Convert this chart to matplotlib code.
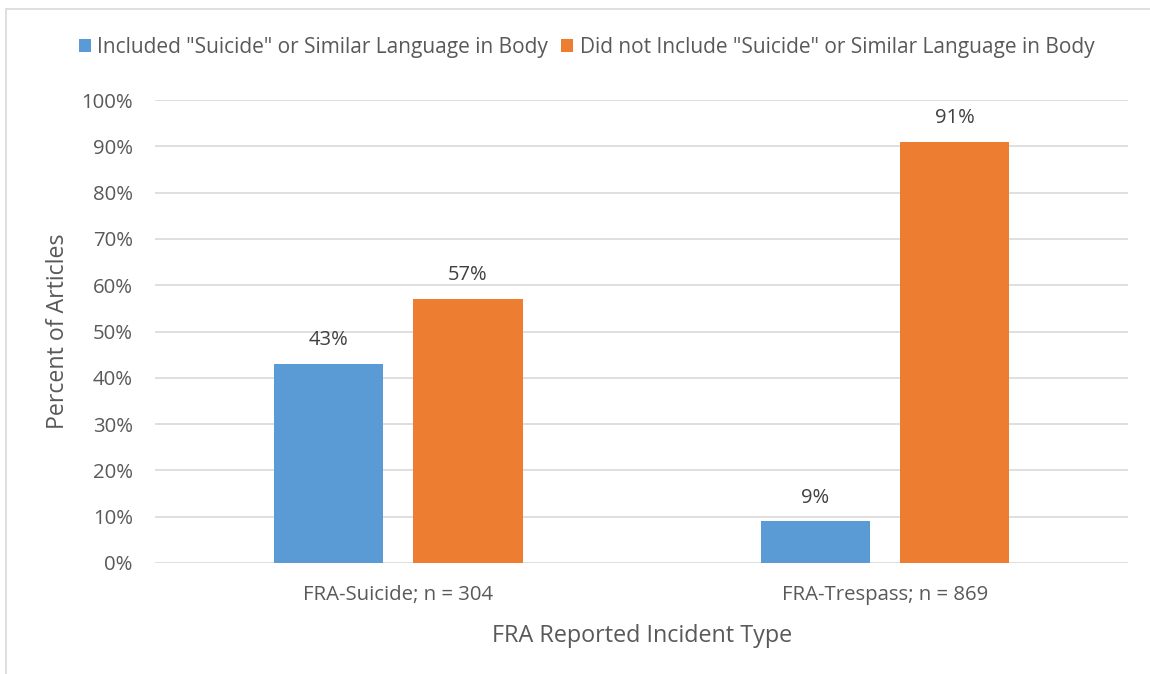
import matplotlib.pyplot as plt
import numpy as np
from matplotlib.patches import Rectangle

plt.rcParams['font.family'] = ['Open Sans', 'DejaVu Sans']

categories = ['FRA-Suicide; n = 304', 'FRA-Trespass; n = 869']
included = [43, 9]
not_included = [57, 91]
series_names = ['Included "Suicide" or Similar Language in Body',
                'Did not Include "Suicide" or Similar Language in Body']

blue = '#5B9BD5'
orange = '#ED7D31'
text_color = '#595959'
grid_color = '#D9D9D9'

fig = plt.figure(figsize=(11.5, 6.74), dpi=100)
ax = fig.add_axes([0.1348, 0.1647, 0.8465, 0.6869])

# chart border
fig.patches.append(Rectangle((0.005, -0.01), 1.1, 0.997, transform=fig.transFigure,
                             fill=False, edgecolor='#D9D9D9', linewidth=1.2))

x = np.arange(len(categories))
width = 0.224
offset = 0.143
b1 = ax.bar(x - offset, included, width, color=blue, label=series_names[0], zorder=3)
b2 = ax.bar(x + offset, not_included, width, color=orange, label=series_names[1], zorder=3)

for bars, vals in ((b1, included), (b2, not_included)):
    for bar, v in zip(bars, vals):
        ax.annotate(f'{v}%', (bar.get_x() + bar.get_width() / 2, v),
                    xytext=(0, 17), textcoords='offset points',
                    ha='center', va='center', fontsize=14.5, color='#404040')

ax.set_xlim(-0.5, 1.5)
ax.set_ylim(0, 100)
ax.set_yticks(range(0, 101, 10))
ax.set_yticklabels([f'{t}%' for t in range(0, 101, 10)])
ax.set_xticks(x)
ax.set_xticklabels(categories)
ax.tick_params(axis='both', length=0, labelsize=14.7, labelcolor=text_color)
ax.tick_params(axis='y', pad=16)
ax.tick_params(axis='x', pad=15.6)
ax.grid(axis='y', color=grid_color, linewidth=1.2, zorder=0)
for s in ax.spines.values():
    s.set_visible(False)

ax.set_ylabel('Percent of Articles', fontsize=16.7, color=text_color, labelpad=8.4)
ax.set_xlabel('FRA Reported Incident Type', fontsize=16.8, color=text_color, labelpad=13.6)

fig.legend(handles=[b1, b2], loc='center', bbox_to_anchor=(0.51, 0.930), ncol=2,
           frameon=False, fontsize=15, labelcolor=text_color, handlelength=0.6,
           handleheight=0.6, handletextpad=0.3, columnspacing=0.6)

fig.savefig('out.png', dpi=100, facecolor='white')
